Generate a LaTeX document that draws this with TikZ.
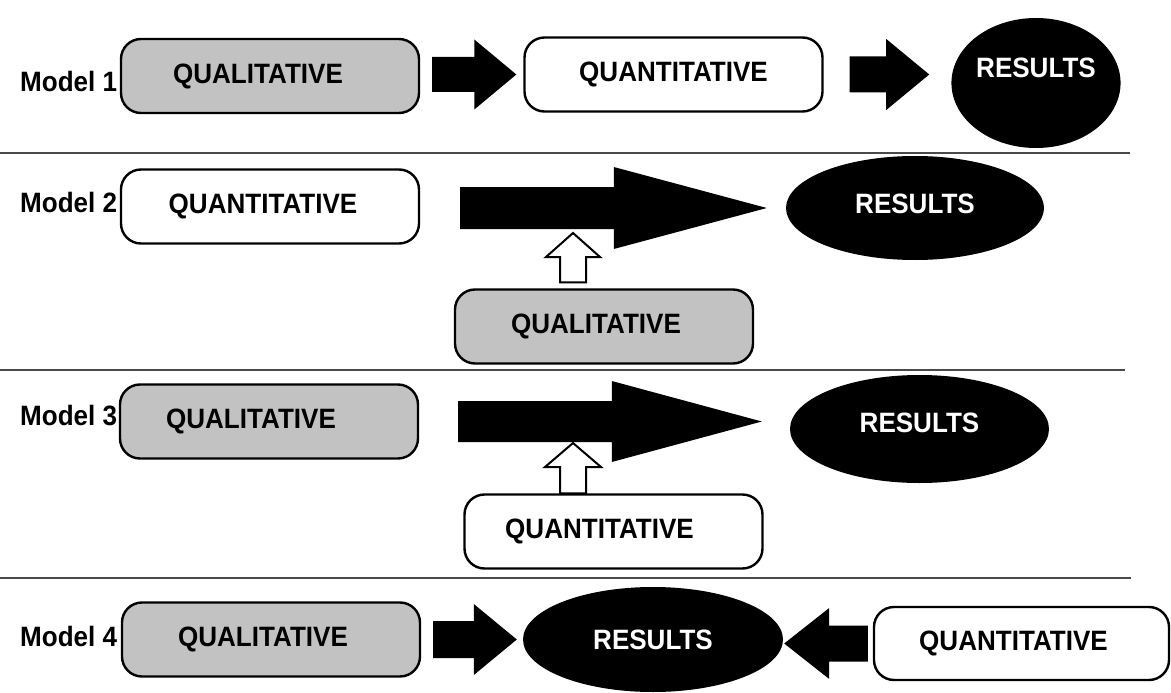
\documentclass[tikz,border=0pt]{standalone}
\usepackage{fontspec}
\setmainfont{Liberation Sans}[FakeStretch=0.93]
\usetikzlibrary{calc,shapes.geometric}

\definecolor{qualgray}{HTML}{C2C2C2}
\definecolor{rulegray}{HTML}{4A4A4A}

% shift a label inside its node without changing the node size
\newcommand{\textnudge}[3]{\raisebox{#2}[\height][\depth]{\hspace*{#1}#3\hspace*{-#1}}}

% solid block arrow: from, tip, shaft half-height, head half-height, head length
\newcommand{\blockarrow}[5]{%
  \fill let \p1=#1, \p2=#2, \n1={ifthenelse(\x2>\x1,1,-1)} in
    (\x1,\y2+#3) -- (\x2-\n1*#5,\y2+#3) -- (\x2-\n1*#5,\y2+#4) -- (\x2,\y2)
    -- (\x2-\n1*#5,\y2-#4) -- (\x2-\n1*#5,\y2-#3) -- (\x1,\y2-#3) -- cycle;}

% hollow upward arrow: from (gives base height), tip, stem half-width, head half-width, head length
\newcommand{\hollowarrow}[5]{%
  \draw[hollow] let \p1=#1, \p2=#2 in
    (\x2-#3,\y1) -- (\x2-#3,\y2-#5) -- (\x2-#4,\y2-#5) -- (\x2,\y2)
    -- (\x2+#4,\y2-#5) -- (\x2+#3,\y2-#5) -- (\x2+#3,\y1) -- cycle;}

\begin{document}
\begin{tikzpicture}[x=1pt,y=-1pt,
  every node/.append style={font=\fontsize{28}{30}\selectfont\bfseries},
  stage/.style={draw=black, line width=2.4pt, rounded corners=20pt,
    minimum width=298pt, minimum height=74pt, inner sep=0pt},
  qual/.style={stage, fill=qualgray},
  quant/.style={stage, fill=white},
  result/.style={ellipse, fill=black, text=white, inner sep=0pt},
  modellabel/.style={anchor=west, inner sep=0pt},
  divider/.style={draw=rulegray, line width=2pt},
  hollow/.style={draw=black, fill=white, line width=2pt, line join=miter}]

\useasboundingbox (0,0) rectangle (1171,693);

% section rules
\draw[divider] (0,153) -- (1130,153);
\draw[divider] (0,370) -- (1125,370);
\draw[divider] (0,578) -- (1131,578);

% ---------------- Model 1 ----------------
\node[modellabel] (m1lab) at (20,81) {Model 1};
\node[qual]  (m1q) at (270,76)    {\textnudge{-12pt}{0pt}{QUALITATIVE}};
\node[quant] (m1n) at (673.5,74.5) {QUANTITATIVE};
\node[result, minimum width=158pt, minimum height=130pt] (m1r) at (1036,83)
  {\textnudge{0pt}{15pt}{RESULTS}};
\coordinate (m1t) at ([xshift=-22pt]m1r.west);
\blockarrow{([xshift=12pt]m1q.east)}{([xshift=-7pt]m1n.west)}{17.5pt}{35pt}{42pt}
\blockarrow{([xshift=26pt]m1n.east)}{(m1t |- m1n.east)}{18pt}{35.5pt}{43pt}

% ---------------- Model 2 ----------------
\node[modellabel] (m2lab) at (20,202) {Model 2};
\node[quant] (m2n) at (270,206.5) {\textnudge{-7pt}{0pt}{QUANTITATIVE}};
\node[qual]  (m2q) at (604,326.5) {\textnudge{-8pt}{0pt}{QUALITATIVE}};
\node[result, minimum width=258pt, minimum height=104pt] (m2r) at (915,208)
  {\textnudge{0pt}{4pt}{RESULTS}};
\coordinate (m2j) at (573,233);
\blockarrow{([xshift=40pt]m2n.east)}{([xshift=-19pt]m2r.west)}{21pt}{41pt}{153pt}
\hollowarrow{([yshift=6pt]m2q.north)}{(m2j)}{13pt}{27pt}{24pt}

% ---------------- Model 3 ----------------
\node[modellabel] (m3lab) at (20,416) {Model 3};
\node[qual]  (m3q) at (269,421.5) {\textnudge{-18pt}{0pt}{QUALITATIVE}};
\node[quant] (m3n) at (613.5,531.5) {\textnudge{-14pt}{0pt}{QUANTITATIVE}};
\node[result, minimum width=259pt, minimum height=108pt] (m3r) at (919.5,429)
  {\textnudge{0pt}{6pt}{RESULTS}};
\coordinate (m3t) at ([xshift=-28pt]m3r.west);
\coordinate (m3j) at (573,443);
\blockarrow{([xshift=39pt]m3q.east)}{(m3t |- m3q.east)}{20.5pt}{40.5pt}{150pt}
\hollowarrow{(m3n.north)}{(m3j)}{13pt}{28pt}{24pt}

% ---------------- Model 4 ----------------
\node[modellabel] (m4lab) at (20,636) {Model 4};
\node[qual]  (m4q) at (271,639.5) {\textnudge{-8pt}{0pt}{QUALITATIVE}};
\node[result, minimum width=260pt, minimum height=105pt] (m4r) at (653,639.5) {RESULTS};
\node[quant, minimum width=295pt, minimum height=73pt] (m4n) at (1021.5,643.5)
  {\textnudge{-8pt}{0pt}{QUANTITATIVE}};
\coordinate (m4t) at ([xshift=1pt]m4r.east);
\blockarrow{([xshift=12pt]m4q.east)}{([xshift=-6pt]m4r.west)}{18.5pt}{35.5pt}{43pt}
\blockarrow{([xshift=-5pt]m4n.west)}{(m4t |- m4n.west)}{18pt}{35.5pt}{45pt}

\end{tikzpicture}
\end{document}
